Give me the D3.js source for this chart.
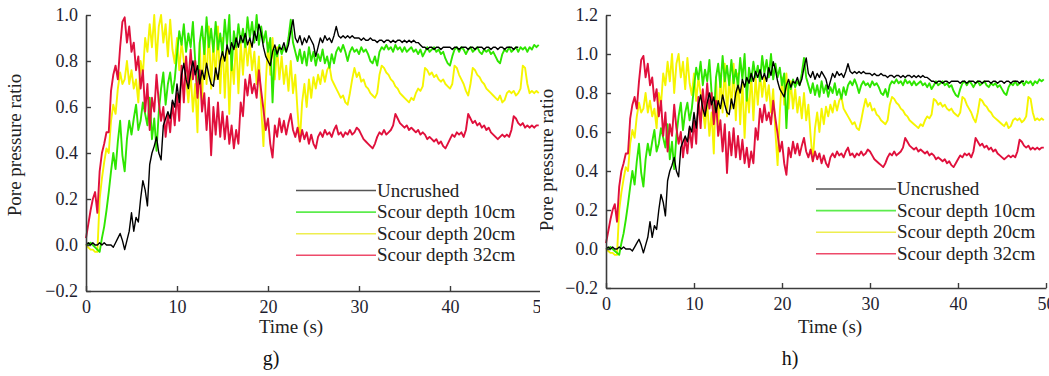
<!DOCTYPE html>
<html>
<head>
<meta charset="utf-8">
<script src="https://cdn.jsdelivr.net/npm/d3@7"></script>
<style>
body { margin: 0; background: #fff; }
svg { display: block; font-family: "Liberation Serif", "Times New Roman", serif; }
</style>
</head>
<body>
<svg width="1049" height="376"></svg>
<script>
// sampling step of the records (s)
var dt = 0.25;

var seriesNames = ["Uncrushed", "Scour depth 10cm", "Scour depth 20cm", "Scour depth 32cm"];

var uncrushed = [
  0.00,0.01,0.00,0.01,0.00,0.00,0.01,0.00,0.01,0.00,0.00,0.00,-0.01,0.01,0.03,0.05,0.02,-0.02,0.02,0.06,
  0.14,0.06,0.12,0.10,0.20,0.28,0.24,0.17,0.35,0.40,0.43,0.47,0.40,0.37,0.52,0.55,0.58,0.55,0.63,0.60,
  0.70,0.62,0.74,0.79,0.72,0.68,0.75,0.80,0.74,0.78,0.70,0.76,0.72,0.79,0.74,0.70,0.69,0.77,0.72,0.80,
  0.84,0.80,0.87,0.83,0.88,0.85,0.90,0.86,0.91,0.88,0.92,0.87,0.90,0.86,0.93,0.89,0.96,0.92,0.86,0.82,
  0.80,0.78,0.84,0.87,0.83,0.86,0.85,0.88,0.84,0.87,0.93,0.98,0.90,0.88,0.91,0.87,0.90,0.88,0.91,0.89,
  0.87,0.82,0.86,0.90,0.88,0.91,0.89,0.90,0.88,0.91,0.95,0.91,0.90,0.91,0.90,0.91,0.90,0.91,0.90,0.90,
  0.90,0.89,0.90,0.89,0.89,0.90,0.89,0.89,0.88,0.89,0.89,0.88,0.89,0.89,0.88,0.89,0.88,0.89,0.89,0.88,
  0.89,0.88,0.89,0.88,0.89,0.88,0.88,0.87,0.86,0.86,0.85,0.86,0.86,0.85,0.86,0.86,0.85,0.86,0.86,0.86,
  0.86,0.85,0.86,0.86,0.85,0.86,0.86,0.86,0.85,0.86,0.86,0.85,0.86,0.86,0.86,0.85,0.86,0.86,0.85,0.86,
  0.86,0.85,0.86,0.86,0.85,0.86,0.86,0.86,0.85,0.86,0.86
];

var scour10 = [
  0.00,0.00,0.01,0.00,-0.01,-0.02,-0.03,0.03,0.08,0.15,0.23,0.32,0.40,0.33,0.45,0.54,0.39,0.32,0.46,0.54,
  0.48,0.55,0.61,0.50,0.54,0.62,0.57,0.52,0.64,0.46,0.55,0.41,0.58,0.68,0.75,0.61,0.70,0.75,0.66,0.72,
  0.83,0.93,0.87,0.96,0.84,0.92,0.86,0.97,0.80,0.66,0.88,0.95,0.83,0.99,0.86,0.94,0.84,0.97,0.85,0.92,
  0.83,0.98,0.87,1.00,0.76,0.93,0.86,0.96,0.88,0.94,0.86,0.99,0.90,0.97,0.88,1.00,0.87,0.95,0.88,0.93,
  0.84,0.90,0.62,0.85,0.82,0.87,0.83,0.86,0.84,0.90,0.98,0.88,0.84,0.80,0.85,0.79,0.84,0.78,0.86,0.80,
  0.84,0.78,0.83,0.80,0.85,0.79,0.82,0.77,0.83,0.79,0.84,0.86,0.84,0.87,0.84,0.80,0.84,0.86,0.84,0.85,
  0.83,0.86,0.84,0.85,0.83,0.80,0.79,0.82,0.78,0.84,0.86,0.85,0.87,0.85,0.86,0.84,0.87,0.85,0.86,0.84,
  0.86,0.84,0.85,0.86,0.84,0.85,0.83,0.85,0.82,0.84,0.86,0.84,0.85,0.86,0.84,0.85,0.83,0.84,0.81,0.79,
  0.78,0.82,0.85,0.86,0.84,0.86,0.85,0.83,0.85,0.86,0.84,0.85,0.86,0.84,0.83,0.85,0.84,0.85,0.83,0.84,
  0.82,0.80,0.79,0.83,0.85,0.84,0.86,0.84,0.85,0.86,0.84,0.86,0.85,0.86,0.84,0.86,0.85,0.87,0.86,0.87
];

var scour20 = [
  0.00,-0.01,-0.02,-0.02,-0.03,-0.03,0.20,0.29,0.36,0.42,0.40,0.54,0.61,0.57,0.68,0.75,0.70,0.72,0.80,0.70,
  0.76,0.68,0.72,0.62,0.80,0.74,0.90,0.84,0.96,0.86,1.00,0.80,0.95,1.00,0.88,0.96,0.82,0.98,0.85,0.79,
  0.90,0.76,0.88,0.80,0.72,0.62,0.75,0.58,0.70,0.49,0.88,0.62,0.90,0.70,0.95,0.68,0.88,0.72,0.95,0.66,
  0.90,0.64,0.86,0.57,0.82,0.70,0.90,0.66,0.88,0.74,0.90,0.78,0.88,0.76,0.84,0.70,0.82,0.60,0.43,0.70,
  0.88,0.74,0.90,0.72,0.86,0.72,0.82,0.70,0.78,0.67,0.80,0.66,0.74,0.58,0.45,0.62,0.70,0.60,0.72,0.64,
  0.73,0.68,0.74,0.70,0.76,0.71,0.76,0.78,0.72,0.70,0.68,0.66,0.64,0.65,0.62,0.61,0.66,0.72,0.77,0.73,
  0.75,0.71,0.72,0.69,0.68,0.66,0.65,0.64,0.66,0.74,0.78,0.77,0.75,0.74,0.72,0.71,0.69,0.68,0.66,0.65,
  0.64,0.63,0.62,0.64,0.63,0.66,0.68,0.67,0.69,0.77,0.76,0.74,0.75,0.73,0.74,0.72,0.71,0.72,0.70,0.69,
  0.68,0.70,0.78,0.77,0.74,0.72,0.70,0.67,0.65,0.70,0.77,0.76,0.74,0.73,0.71,0.70,0.68,0.67,0.66,0.65,
  0.64,0.63,0.65,0.62,0.63,0.66,0.67,0.66,0.67,0.65,0.66,0.68,0.78,0.77,0.70,0.66,0.67,0.66,0.67,0.66
];

var scour32 = [
  0.03,0.09,0.15,0.20,0.23,0.14,0.32,0.40,0.44,0.49,0.49,0.67,0.74,0.78,0.72,0.86,0.97,0.99,0.88,0.95,
  0.84,0.88,0.76,0.82,0.68,0.76,0.58,0.70,0.50,0.64,0.58,0.74,0.62,0.54,0.60,0.47,0.57,0.49,0.62,0.52,
  0.66,0.54,0.78,0.62,0.82,0.70,0.85,0.72,0.80,0.64,0.76,0.58,0.66,0.50,0.64,0.39,0.60,0.48,0.62,0.47,
  0.58,0.46,0.56,0.44,0.52,0.42,0.50,0.44,0.62,0.56,0.72,0.65,0.74,0.66,0.70,0.64,0.76,0.67,0.59,0.50,
  0.55,0.44,0.38,0.52,0.47,0.55,0.49,0.54,0.48,0.53,0.57,0.50,0.47,0.51,0.45,0.50,0.46,0.49,0.44,0.48,
  0.44,0.42,0.47,0.49,0.47,0.50,0.48,0.49,0.47,0.50,0.52,0.48,0.49,0.47,0.49,0.48,0.50,0.48,0.49,0.51,
  0.50,0.48,0.46,0.45,0.44,0.43,0.42,0.44,0.47,0.49,0.48,0.50,0.48,0.49,0.50,0.52,0.57,0.55,0.53,0.52,
  0.51,0.52,0.50,0.51,0.50,0.49,0.50,0.48,0.49,0.48,0.46,0.47,0.46,0.45,0.46,0.44,0.45,0.43,0.42,0.44,
  0.46,0.48,0.47,0.49,0.48,0.49,0.47,0.50,0.57,0.55,0.53,0.54,0.52,0.53,0.51,0.52,0.50,0.51,0.49,0.48,
  0.47,0.46,0.47,0.48,0.47,0.48,0.47,0.50,0.56,0.55,0.53,0.52,0.53,0.51,0.52,0.51,0.52,0.51,0.52,0.52
];

var xTicks = [0, 10, 20, 30, 40, 50];
var yTicksG = [-0.2, 0.0, 0.2, 0.4, 0.6, 0.8, 1.0];
var yTicksH = [-0.2, 0.0, 0.2, 0.4, 0.6, 0.8, 1.0, 1.2];

var lineColors = ["#000000", "#2ee600", "#f5f500", "#e0103c"];
var legendColors = ["#555555", "#5cec4c", "#eeee50", "#ee4a6a"];
var drawOrder = [2, 1, 3, 0];
var allSeries = [uncrushed, scour10, scour20, scour32];

var svg = d3.select("svg");

function drawPanel(p) {
    var g = svg.append("g");
    svg.append("clipPath").attr("id", p.id + "clip")
        .append("rect").attr("x", p.clipX).attr("y", 0).attr("width", p.clipW).attr("height", 376);
    g.attr("clip-path", "url(#" + p.id + "clip)");

    var x = d3.scaleLinear().domain([0, 50]).range([p.left, p.right]);
    var y = d3.scaleLinear().domain(p.yDomain).range([p.bottom, p.top]);

    var line = d3.line()
        .x(function(d, i) { return x(i * dt); })
        .y(function(d) { return y(d); });

    drawOrder.forEach(function(k) {
        g.append("path")
            .datum(allSeries[k])
            .attr("fill", "none")
            .attr("stroke", lineColors[k])
            .attr("stroke-width", k == 0 ? 1.4 : 1.9)
            .attr("stroke-linejoin", "round")
            .attr("d", line);
    });

    var xAxis = g.append("g")
        .attr("transform", "translate(0," + p.bottom + ")")
        .call(d3.axisBottom(x).tickValues(xTicks).tickSizeInner(-5).tickSizeOuter(0).tickPadding(9));
    var yAxis = g.append("g")
        .attr("transform", "translate(" + p.left + ",0)")
        .call(d3.axisLeft(y).tickValues(p.yTicks).tickFormat(d3.format(".1f")).tickSizeInner(-5).tickSizeOuter(0).tickPadding(8));

    [xAxis, yAxis].forEach(function(a) {
        a.select(".domain").attr("stroke", "#3c3c3c").attr("stroke-width", 1.6);
        a.selectAll(".tick line").attr("stroke", "#3c3c3c").attr("stroke-width", 1.4);
        a.selectAll(".tick text")
            .attr("fill", "#1e1e30")
            .style("font-family", "'Liberation Serif', serif")
            .style("font-size", "18px");
    });

    // legend
    seriesNames.forEach(function(name, i) {
        var ly = p.legendY + i * 21.6;
        g.append("line")
            .attr("x1", p.legendX).attr("x2", p.legendX + 80)
            .attr("y1", ly).attr("y2", ly)
            .attr("stroke", legendColors[i]).attr("stroke-width", 1.6);
        g.append("text")
            .attr("x", p.legendX + 81).attr("y", ly + 6)
            .attr("fill", "#222")
            .style("font-size", "19px")
            .text(name);
    });

    g.append("text")
        .attr("transform", "translate(" + p.yLabelX + "," + p.yLabelY + ") rotate(-90)")
        .attr("text-anchor", "middle")
        .attr("fill", "#222")
        .style("font-size", "19px")
        .text("Pore pressure ratio");

    g.append("text")
        .attr("x", p.xLabelX).attr("y", 333)
        .attr("text-anchor", "middle")
        .attr("fill", "#222")
        .style("font-size", "19px")
        .text("Time (s)");

    g.append("text")
        .attr("x", p.tagX).attr("y", 365)
        .attr("text-anchor", "middle")
        .attr("fill", "#111")
        .style("font-size", "20px")
        .text(p.tag);
}

drawPanel({
    id: "g", clipX: 0, clipW: 540,
    left: 86, right: 541, top: 15, bottom: 291,
    yDomain: [-0.2, 1.0], yTicks: yTicksG,
    legendX: 296, legendY: 190.5,
    yLabelX: 21, yLabelY: 145, xLabelX: 291,
    tagX: 271, tag: "g)"
});

drawPanel({
    id: "h", clipX: 540, clipW: 509,
    left: 606, right: 1046, top: 15, bottom: 288,
    yDomain: [-0.2, 1.2], yTicks: yTicksH,
    legendX: 816, legendY: 189,
    yLabelX: 553, yLabelY: 160, xLabelX: 830,
    tagX: 790, tag: "h)"
});
</script>
</body>
</html>
